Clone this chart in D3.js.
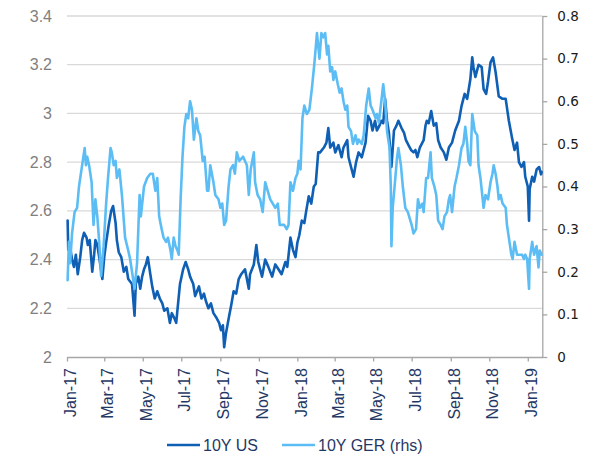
<!DOCTYPE html>
<html>
<head>
<meta charset="utf-8">
<script src="https://cdn.jsdelivr.net/npm/d3@7"></script>
<style>
  html, body { margin: 0; padding: 0; background: #fff; }
  svg { display: block; }
</style>
</head>
<body>
<svg id="chart" width="590" height="457"></svg>
<script>
// ---------------- DATA ----------------
const seriesNames = ["10Y US", "10Y GER (rhs)"];

const usDates = [
"2017-01-02","2017-01-03","2017-01-06","2017-01-09","2017-01-12","2017-01-15","2017-01-18","2017-01-22","2017-01-25","2017-01-28",
"2017-02-01","2017-02-03","2017-02-06","2017-02-10","2017-02-13","2017-02-15","2017-02-18","2017-02-21","2017-02-26","2017-03-01",
"2017-03-04","2017-03-08","2017-03-12","2017-03-15","2017-03-19","2017-03-21","2017-03-24","2017-03-28","2017-03-30","2017-04-01",
"2017-04-05","2017-04-08","2017-04-11","2017-04-14","2017-04-18","2017-04-20","2017-04-24","2017-04-27","2017-04-30","2017-05-03",
"2017-05-06","2017-05-09","2017-05-13","2017-05-16","2017-05-20","2017-05-24","2017-05-28","2017-06-01","2017-06-04","2017-06-09",
"2017-06-13","2017-06-16","2017-06-20","2017-06-23","2017-06-26","2017-06-29","2017-07-04","2017-07-08","2017-07-12","2017-07-15",
"2017-07-20","2017-07-23","2017-07-26","2017-07-29","2017-08-02","2017-08-06","2017-08-09","2017-08-13","2017-08-17","2017-08-21",
"2017-08-26","2017-08-30","2017-09-02","2017-09-05","2017-09-07","2017-09-10","2017-09-15","2017-09-18","2017-09-22","2017-09-26",
"2017-09-30","2017-10-04","2017-10-10","2017-10-16","2017-10-18","2017-10-24","2017-10-28","2017-10-31","2017-11-06","2017-11-11",
"2017-11-16","2017-11-22","2017-11-27","2017-12-02","2017-12-07","2017-12-13","2017-12-16","2017-12-21","2017-12-25","2017-12-29",
"2018-01-01","2018-01-04","2018-01-08","2018-01-12","2018-01-15","2018-01-19","2018-01-23","2018-01-27","2018-01-30","2018-02-03",
"2018-02-06","2018-02-12","2018-02-16","2018-02-19","2018-02-22","2018-02-27","2018-03-02","2018-03-07","2018-03-12","2018-03-15",
"2018-03-21","2018-03-23","2018-03-27","2018-03-31","2018-04-04","2018-04-08","2018-04-13","2018-04-19","2018-04-23","2018-04-27",
"2018-04-30","2018-05-04","2018-05-07","2018-05-11","2018-05-14","2018-05-17","2018-05-20","2018-05-23","2018-05-26","2018-05-30",
"2018-06-03","2018-06-07","2018-06-10","2018-06-15","2018-06-19","2018-06-22","2018-06-26","2018-06-30","2018-07-04","2018-07-07",
"2018-07-10","2018-07-14","2018-07-20","2018-07-23","2018-07-25","2018-07-28","2018-08-01","2018-08-05","2018-08-09","2018-08-12",
"2018-08-16","2018-08-21","2018-08-25","2018-08-29","2018-09-03","2018-09-08","2018-09-14","2018-09-18","2018-09-23","2018-09-27",
"2018-10-02","2018-10-05","2018-10-07","2018-10-10","2018-10-15","2018-10-20","2018-10-23","2018-10-27","2018-10-30","2018-11-03",
"2018-11-07","2018-11-11","2018-11-16","2018-11-22","2018-11-27","2018-12-02","2018-12-07","2018-12-11","2018-12-15","2018-12-18",
"2018-12-22","2018-12-26","2018-12-28","2019-01-01","2019-01-03","2019-01-04","2019-01-08","2019-01-11","2019-01-15","2019-01-19",
"2019-01-22","2019-01-23"
];
const usValues = [
2.56,2.44,2.45,2.40,2.37,2.42,2.34,2.41,2.48,2.51,
2.49,2.46,2.48,2.35,2.42,2.48,2.46,2.41,2.32,2.41,
2.47,2.54,2.60,2.62,2.55,2.48,2.43,2.41,2.38,2.35,
2.37,2.32,2.31,2.30,2.17,2.30,2.33,2.28,2.33,2.36,
2.38,2.41,2.34,2.29,2.24,2.27,2.24,2.22,2.19,2.20,
2.14,2.18,2.16,2.14,2.22,2.30,2.36,2.39,2.36,2.33,
2.30,2.25,2.27,2.29,2.24,2.26,2.23,2.20,2.22,2.18,
2.16,2.14,2.11,2.13,2.04,2.10,2.17,2.21,2.27,2.26,
2.32,2.34,2.36,2.28,2.34,2.38,2.46,2.39,2.33,2.40,
2.37,2.33,2.38,2.36,2.34,2.39,2.37,2.49,2.44,2.41,
2.47,2.50,2.56,2.55,2.60,2.66,2.63,2.70,2.71,2.84,
2.84,2.86,2.88,2.94,2.86,2.88,2.84,2.87,2.82,2.86,
2.89,2.82,2.78,2.74,2.80,2.84,2.82,2.88,2.99,2.97,
2.93,2.97,2.93,2.95,2.97,2.96,3.06,2.97,2.92,2.78,
2.93,2.95,2.97,2.94,2.92,2.89,2.87,2.85,2.84,2.85,
2.82,2.86,2.89,2.95,2.97,2.96,3.01,2.95,2.96,2.89,
2.86,2.84,2.81,2.86,2.88,2.93,2.97,3.03,3.08,3.06,
3.14,3.23,3.19,3.15,3.20,3.19,3.10,3.08,3.13,3.21,
3.23,3.17,3.07,3.06,3.06,2.97,2.90,2.85,2.88,2.80,
2.78,2.80,2.74,2.70,2.56,2.69,2.74,2.72,2.77,2.78,
2.75,2.76
];

const gerDates = [
"2017-01-02","2017-01-04","2017-01-06","2017-01-09","2017-01-13","2017-01-17","2017-01-20","2017-01-22","2017-01-26","2017-01-29",
"2017-01-31","2017-02-02","2017-02-05","2017-02-09","2017-02-12","2017-02-15","2017-02-18","2017-02-21","2017-02-24","2017-02-28",
"2017-03-04","2017-03-07","2017-03-11","2017-03-13","2017-03-16","2017-03-19","2017-03-21","2017-03-25","2017-03-29","2017-04-03",
"2017-04-08","2017-04-11","2017-04-14","2017-04-18","2017-04-22","2017-04-26","2017-04-28","2017-05-03","2017-05-08","2017-05-13",
"2017-05-17","2017-05-21","2017-05-24","2017-05-27","2017-05-31","2017-06-03","2017-06-07","2017-06-10","2017-06-14","2017-06-16",
"2017-06-19","2017-06-22","2017-06-25","2017-06-27","2017-06-30","2017-07-03","2017-07-06","2017-07-09","2017-07-12","2017-07-15",
"2017-07-18","2017-07-21","2017-07-25","2017-07-28","2017-07-31","2017-08-04","2017-08-07","2017-08-11","2017-08-13","2017-08-16",
"2017-08-21","2017-08-24","2017-08-29","2017-09-01","2017-09-04","2017-09-07","2017-09-10","2017-09-14","2017-09-17","2017-09-21",
"2017-09-24","2017-09-27","2017-10-01","2017-10-07","2017-10-13","2017-10-16","2017-10-19","2017-10-24","2017-10-26","2017-10-30",
"2017-11-03","2017-11-07","2017-11-11","2017-11-15","2017-11-19","2017-11-23","2017-11-27","2017-12-01","2017-12-04","2017-12-07",
"2017-12-11","2017-12-15","2017-12-18","2017-12-21","2017-12-25","2017-12-29","2018-01-01","2018-01-03","2018-01-06","2018-01-09",
"2018-01-12","2018-01-16","2018-01-20","2018-01-24","2018-01-28","2018-02-01","2018-02-05","2018-02-08","2018-02-11","2018-02-14",
"2018-02-17","2018-02-19","2018-02-22","2018-02-25","2018-02-27","2018-03-02","2018-03-06","2018-03-09","2018-03-12","2018-03-15",
"2018-03-18","2018-03-21","2018-03-23","2018-03-27","2018-03-30","2018-04-03","2018-04-06","2018-04-08","2018-04-13","2018-04-16",
"2018-04-20","2018-04-24","2018-04-27","2018-04-30","2018-05-05","2018-05-07","2018-05-10","2018-05-14","2018-05-17","2018-05-20",
"2018-05-23","2018-05-27","2018-05-29","2018-05-30","2018-06-01","2018-06-04","2018-06-08","2018-06-10","2018-06-14","2018-06-17",
"2018-06-21","2018-06-25","2018-07-01","2018-07-04","2018-07-08","2018-07-11","2018-07-14","2018-07-18","2018-07-20","2018-07-24",
"2018-07-27","2018-07-31","2018-08-02","2018-08-06","2018-08-09","2018-08-12","2018-08-16","2018-08-19","2018-08-22","2018-08-26",
"2018-08-29","2018-08-31","2018-09-03","2018-09-07","2018-09-10","2018-09-14","2018-09-18","2018-09-21","2018-09-24","2018-09-27",
"2018-09-29","2018-10-02","2018-10-05","2018-10-09","2018-10-13","2018-10-15","2018-10-18","2018-10-23","2018-10-26","2018-10-30",
"2018-11-03","2018-11-06","2018-11-08","2018-11-11","2018-11-14","2018-11-16","2018-11-19","2018-11-22","2018-11-27","2018-11-29",
"2018-12-03","2018-12-06","2018-12-08","2018-12-11","2018-12-15","2018-12-19","2018-12-23","2018-12-26","2018-12-28","2018-12-31",
"2019-01-03","2019-01-04","2019-01-08","2019-01-11","2019-01-15","2019-01-18","2019-01-20","2019-01-23"
];
const gerValues = [
0.18,0.27,0.22,0.29,0.34,0.35,0.40,0.42,0.46,0.49,
0.45,0.47,0.45,0.41,0.31,0.37,0.33,0.27,0.19,0.26,
0.36,0.42,0.49,0.48,0.45,0.46,0.42,0.44,0.38,0.28,
0.25,0.23,0.20,0.16,0.22,0.38,0.33,0.40,0.42,0.43,
0.43,0.39,0.42,0.33,0.30,0.28,0.27,0.28,0.25,0.23,
0.28,0.26,0.25,0.24,0.37,0.47,0.54,0.57,0.56,0.60,
0.58,0.51,0.56,0.53,0.52,0.46,0.47,0.39,0.39,0.45,
0.41,0.38,0.37,0.35,0.36,0.31,0.32,0.40,0.44,0.45,
0.43,0.48,0.46,0.47,0.45,0.38,0.44,0.48,0.41,0.38,
0.37,0.34,0.41,0.39,0.37,0.36,0.35,0.36,0.31,0.31,
0.31,0.30,0.31,0.41,0.39,0.42,0.43,0.46,0.44,0.56,
0.59,0.57,0.58,0.63,0.69,0.76,0.70,0.76,0.75,0.76,
0.71,0.73,0.67,0.68,0.65,0.67,0.64,0.62,0.63,0.60,
0.58,0.59,0.54,0.53,0.50,0.52,0.50,0.51,0.50,0.52,
0.59,0.63,0.59,0.58,0.56,0.57,0.55,0.60,0.64,0.60,
0.53,0.49,0.40,0.26,0.35,0.40,0.47,0.49,0.45,0.40,
0.35,0.34,0.31,0.29,0.30,0.37,0.35,0.36,0.34,0.42,
0.42,0.48,0.42,0.40,0.38,0.32,0.31,0.30,0.33,0.34,
0.37,0.38,0.34,0.40,0.42,0.45,0.49,0.50,0.54,0.50,
0.46,0.45,0.57,0.53,0.52,0.45,0.42,0.35,0.38,0.37,
0.41,0.43,0.45,0.43,0.40,0.37,0.38,0.36,0.35,0.31,
0.27,0.24,0.23,0.27,0.24,0.24,0.24,0.23,0.24,0.23,
0.16,0.23,0.27,0.24,0.26,0.21,0.25,0.24
];

const leftTicks  = [2, 2.2, 2.4, 2.6, 2.8, 3, 3.2, 3.4];
const rightTicks = [0, 0.1, 0.2, 0.3, 0.4, 0.5, 0.6, 0.7, 0.8];
const xStart = "2017-01-01";
const xEnd   = "2019-01-24";

// ---------------- CHART ----------------
const parse = d3.utcParse("%Y-%m-%d");
const usData  = usDates.map((d, i) => ({ date: parse(d), value: usValues[i] }));
const gerData = gerDates.map((d, i) => ({ date: parse(d), value: gerValues[i] }));

const svg = d3.select("#chart");
const plot = { left: 67, right: 542.3, top: 16, bottom: 357 };

const x  = d3.scaleUtc().domain([parse(xStart), parse(xEnd)]).range([plot.left, plot.right]);
const yL = d3.scaleLinear().domain([2, 3.4]).range([plot.bottom, plot.top]);
const yR = d3.scaleLinear().domain([0, 0.8]).range([plot.bottom, plot.top]);

const arial = "'Liberation Sans', Arial, Helvetica, sans-serif";
const navy = "#1f3864";
const axisGrey = "#a6a6a6";

// gridlines (left axis)
svg.append("g")
  .selectAll("line")
  .data(leftTicks.filter(d => d !== 2))
  .join("line")
  .attr("x1", plot.left).attr("x2", plot.right)
  .attr("y1", d => yL(d)).attr("y2", d => yL(d))
  .attr("stroke", "#d9d9d9").attr("stroke-width", 1.3);

// left axis (labels only)
const gL = svg.append("g")
  .attr("transform", `translate(${plot.left},0)`)
  .call(d3.axisLeft(yL).tickValues(leftTicks).tickSize(0).tickPadding(15)
        .tickFormat(d => String(+d.toFixed(1))));
gL.select(".domain").remove();
gL.selectAll("text")
  .attr("font-family", arial).attr("font-size", 16).attr("fill", "#7f7f7f");

// right axis
const gR = svg.append("g")
  .attr("transform", `translate(${plot.right},0)`)
  .call(d3.axisRight(yR).tickValues(rightTicks).tickSize(5).tickSizeOuter(0).tickPadding(10)
        .tickFormat(d => d === 0 ? "0" : d.toFixed(1)));
gR.select(".domain").attr("stroke", axisGrey).attr("stroke-width", 1.3);
gR.selectAll(".tick line").attr("stroke", axisGrey).attr("stroke-width", 1.3);
gR.selectAll("text")
  .attr("font-family", "'DejaVu Sans', Verdana, sans-serif").attr("font-size", 13.5).attr("fill", "#1a1a1a");

// x axis
const gX = svg.append("g")
  .attr("transform", `translate(0,${plot.bottom})`)
  .call(d3.axisBottom(x).ticks(d3.utcMonth.every(2)).tickSize(4.5).tickSizeOuter(0)
        .tickFormat(d3.utcFormat("%b-%y")));
gX.select(".domain").attr("stroke", axisGrey).attr("stroke-width", 1.3);
gX.selectAll(".tick line").attr("stroke", axisGrey).attr("stroke-width", 1.3);
gX.selectAll("text")
  .attr("font-family", arial).attr("font-size", 16).attr("fill", navy)
  .attr("transform", "rotate(-90)")
  .attr("text-anchor", "end")
  .attr("x", -11).attr("y", 3).attr("dy", "0.35em");

// lines
const colors = ["#0f5fb5", "#5cbdf5"];
const lineL = d3.line().x(d => x(d.date)).y(d => yL(d.value));
const lineR = d3.line().x(d => x(d.date)).y(d => yR(d.value));

svg.append("path").datum(usData)
  .attr("d", lineL).attr("fill", "none")
  .attr("stroke", colors[0]).attr("stroke-width", 2.6)
  .attr("stroke-linejoin", "round").attr("stroke-linecap", "round");

svg.append("path").datum(gerData)
  .attr("d", lineR).attr("fill", "none")
  .attr("stroke", colors[1]).attr("stroke-width", 2.6)
  .attr("stroke-linejoin", "round").attr("stroke-linecap", "round");

// legend
const legendY = 445;
const legendItems = [
  { name: seriesNames[0], color: colors[0], x0: 167, x1: 200, tx: 203 },
  { name: seriesNames[1], color: colors[1], x0: 282, x1: 315, tx: 318 }
];
const lg = svg.append("g");
lg.selectAll("line").data(legendItems).join("line")
  .attr("x1", d => d.x0).attr("x2", d => d.x1)
  .attr("y1", legendY).attr("y2", legendY)
  .attr("stroke", d => d.color).attr("stroke-width", 2.6);
lg.selectAll("text").data(legendItems).join("text")
  .attr("x", d => d.tx).attr("y", legendY).attr("dy", "0.35em")
  .attr("font-family", arial).attr("font-size", 16).attr("fill", navy)
  .text(d => d.name);
</script>
</body>
</html>
